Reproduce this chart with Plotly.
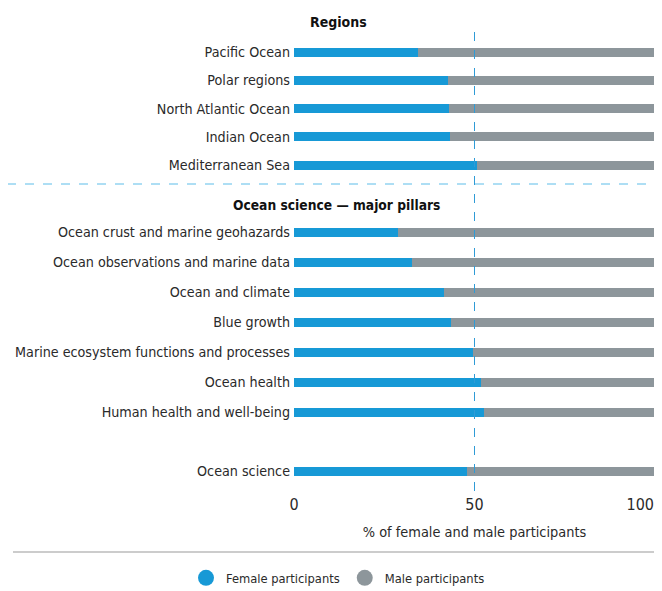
import plotly.graph_objects as go

# ---- data ----
regions = ["Pacific Ocean", "Polar regions", "North Atlantic Ocean", "Indian Ocean", "Mediterranean Sea"]
female_regions = [34.4, 42.6, 43.0, 43.3, 50.7]
male_regions = [65.6, 57.4, 57.0, 56.7, 49.3]

pillars = ["Ocean crust and marine geohazards", "Ocean observations and marine data",
           "Ocean and climate", "Blue growth", "Marine ecosystem functions and processes",
           "Ocean health", "Human health and well-being"]
female_pillars = [28.8, 32.8, 41.6, 43.6, 49.5, 51.9, 52.5]
male_pillars = [71.2, 67.2, 58.4, 56.4, 50.5, 48.1, 47.5]

overall = ["Ocean science"]
female_overall = [47.9]
male_overall = [52.1]

x_ticks = [0, 50, 100]
x_title = "% of female and male participants"
heading_regions = "Regions"
heading_pillars = "Ocean science — major pillars"
legend_names = ["Female participants", "Male participants"]

# ---- layout helpers ----
FONT = "DejaVu Sans Condensed, Liberation Sans Narrow, sans-serif"
BLUE = "#1799d6"
GREY = "#8d969b"
TXT = "#2a2a2a"

# the page body has an 8px margin: design in window pixels, then shift
OFF = 8
WIN_W, WIN_H = 662, 591
W, H = WIN_W - OFF, WIN_H - OFF
TOP, BOT = 10, 495      # plot area top / bottom in window px
L, R = 294, 655         # x=0 and x=100 in window px

region_y = [52 + i * 28.3 for i in range(len(regions))]
pillar_y = [232 + i * 30 for i in range(len(pillars))]
overall_y = [471]

cats = regions + pillars + overall
ys = region_y + pillar_y + overall_y
fem = female_regions + female_pillars + female_overall
mal = male_regions + male_pillars + male_overall


def px_to_paper_x(px):
    return (px - L) / (R - L)


def px_to_paper_y(py):
    return (BOT - py) / (BOT - TOP)


fig = go.Figure()
fig.add_trace(go.Bar(x=fem, y=ys, orientation="h", width=9, marker=dict(color=BLUE, line=dict(width=0)),
                     name=legend_names[0], showlegend=False, hoverinfo="x"))
fig.add_trace(go.Bar(x=mal, y=ys, orientation="h", width=9, marker=dict(color=GREY, line=dict(width=0)),
                     name=legend_names[1], showlegend=False, hoverinfo="x"))
# legend entries with circle markers (attached to the overlay axis)
fig.add_trace(go.Scatter(x=[None], y=[None], mode="markers", name=legend_names[0], xaxis="x2",
                         marker=dict(symbol="circle", size=20, color=BLUE)))
fig.add_trace(go.Scatter(x=[None], y=[None], mode="markers", name=legend_names[1], xaxis="x2",
                         marker=dict(symbol="circle", size=20, color=GREY)))

common_x = dict(range=[0, 100], showgrid=False, zeroline=False, showline=False, ticks="",
                tickfont=dict(size=16, color=TXT), automargin=False, ticklabelstandoff=-2,
                ticklabeloverflow="allow", fixedrange=True)

fig.update_layout(
    width=W, height=H,
    margin=dict(l=L - OFF, r=W - (R - OFF), t=TOP - OFF, b=H - (BOT - OFF), pad=0, autoexpand=False),
    barmode="stack",
    bargap=0,
    paper_bgcolor="white", plot_bgcolor="white",
    font=dict(family=FONT, size=14, color=TXT),
    xaxis=dict(tickvals=x_ticks[:-1],
               title=dict(text=x_title, font=dict(size=14.4, color=TXT), standoff=13),
               **common_x),
    # last tick label, right-aligned so it stays inside the page
    xaxis2=dict(overlaying="x", anchor="y", side="bottom", tickvals=x_ticks[-1:],
                ticklabelposition="outside left", ticklabelshift=-1, **common_x),
    yaxis=dict(range=[BOT, TOP], tickvals=ys, ticktext=cats, showgrid=False, zeroline=False,
               showline=False, ticks="", ticklabelstandoff=3, tickfont=dict(size=14.2, color=TXT),
               automargin=False, fixedrange=True),
    legend=dict(orientation="h", x=px_to_paper_x(338), xanchor="center",
                y=px_to_paper_y(578), yanchor="middle", font=dict(size=12.8, color=TXT),
                traceorder="normal", itemsizing="trace",
                bgcolor="rgba(0,0,0,0)"),
    showlegend=True,
)

fig.add_annotation(text="<b>" + heading_regions + "</b>", xref="paper", yref="y",
                   x=px_to_paper_x(338), y=22, showarrow=False, xanchor="center",
                   font=dict(size=14, color="#111"))
fig.add_annotation(text="<b>" + heading_pillars + "</b>", xref="paper", yref="y",
                   x=px_to_paper_x(336), y=205, showarrow=False, xanchor="center",
                   font=dict(size=13.7, color="#111"))

# vertical dashed line at 50
fig.add_shape(type="line", xref="x", yref="y", x0=50, x1=50, y0=32, y1=493,
              line=dict(color="#2f9bd6", width=1, dash="dash"))
# horizontal dashed separator between regions and pillars
fig.add_shape(type="line", xref="paper", yref="y", x0=px_to_paper_x(7), x1=px_to_paper_x(662),
              y0=184, y1=184, line=dict(color="#5cbde9", width=1, dash="dash"))
# solid rule above legend
fig.add_shape(type="line", xref="paper", yref="paper", x0=px_to_paper_x(13), x1=px_to_paper_x(662),
              y0=px_to_paper_y(552), y1=px_to_paper_y(552), line=dict(color="#9a9a9a", width=1.2))

fig.write_html("out.html")
